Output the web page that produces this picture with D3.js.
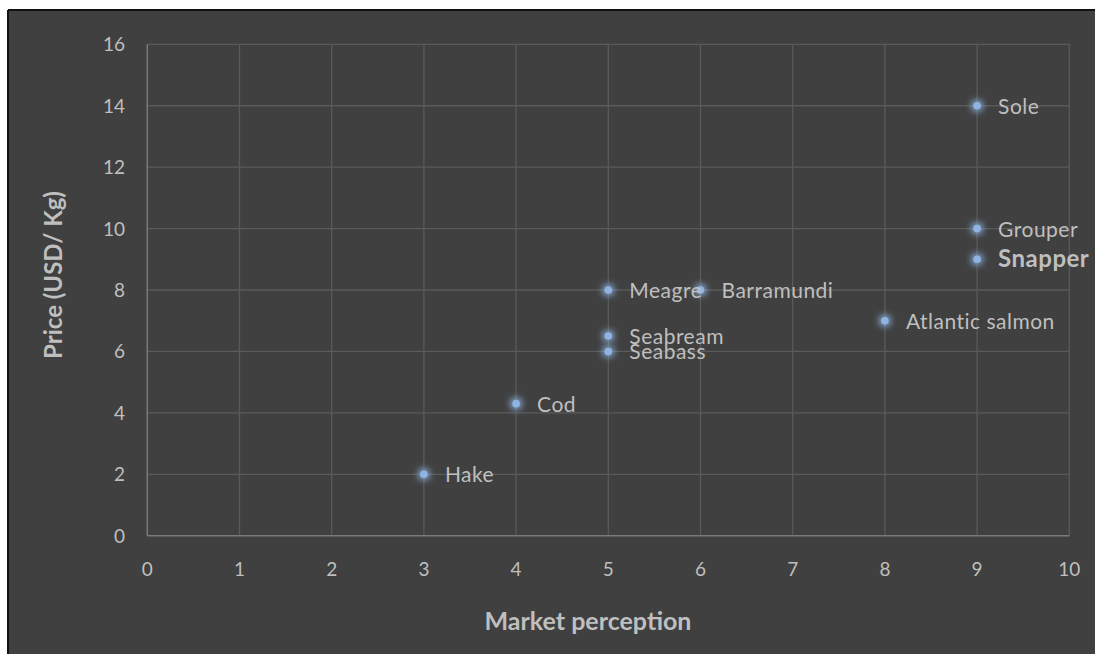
<!DOCTYPE html>
<html>
<head>
<meta charset="utf-8">
<script src="https://cdn.jsdelivr.net/npm/d3@7"></script>
<style>
  html, body { margin: 0; padding: 0; background: #ffffff; }
  svg { display: block; }
</style>
</head>
<body>
<svg id="chart" width="1095" height="654"></svg>
<script>
// Species positioned by market perception (x) and price in USD/kg (y)
const species = ["Hake", "Cod", "Seabass", "Seabream", "Meagre", "Barramundi", "Atlantic salmon", "Snapper", "Grouper", "Sole"];
const perception = [3, 4, 5, 5, 5, 6, 8, 9, 9, 9];
const price = [2, 4.3, 6, 6.5, 8, 8, 7, 9, 10, 14];
const highlighted = ["Snapper"];
const xTicks = [0, 1, 2, 3, 4, 5, 6, 7, 8, 9, 10];
const yTicks = [0, 2, 4, 6, 8, 10, 12, 14, 16];

const svg = d3.select("#chart");
const W = 1095, H = 654;
const font = "Lato, 'Open Sans', sans-serif";
const textCol = "#bfbfbf";

// chart panel
svg.append("rect").attr("x", 8).attr("y", 10).attr("width", W - 8).attr("height", H - 10)
  .attr("fill", "#404040");
svg.append("line").attr("x1", 8).attr("x2", 8).attr("y1", 10).attr("y2", H)
  .attr("stroke", "#111").attr("stroke-width", 2);
svg.append("line").attr("x1", 8).attr("x2", W).attr("y1", 10).attr("y2", 10)
  .attr("stroke", "#111").attr("stroke-width", 2);

const x = d3.scaleLinear().domain([0, 10]).range([147.3, 1069.3]);
const y = d3.scaleLinear().domain([0, 16]).range([535.7, 44.3]);

// soft blue halo around markers
const defs = svg.append("defs");
const f = defs.append("filter").attr("id", "glow").attr("x", "-300%").attr("y", "-300%")
  .attr("width", "700%").attr("height", "700%");
f.append("feMorphology").attr("in", "SourceGraphic").attr("operator", "dilate").attr("radius", 2).attr("result", "d");
f.append("feGaussianBlur").attr("in", "d").attr("stdDeviation", 3).attr("result", "b");
f.append("feColorMatrix").attr("in", "b").attr("type", "matrix")
  .attr("values", "0 0 0 0 0.27  0 0 0 0 0.45  0 0 0 0 0.75  0 0 0 0.85 0").attr("result", "c");
const m = f.append("feMerge");
m.append("feMergeNode").attr("in", "c");
m.append("feMergeNode").attr("in", "SourceGraphic");

// gridlines
const grid = svg.append("g");
grid.selectAll(".gx").data(xTicks.slice(1)).join("line")
  .attr("x1", d => x(d)).attr("x2", d => x(d))
  .attr("y1", y(16)).attr("y2", y(0))
  .attr("stroke", "#5a5a5a").attr("stroke-width", 1.3);
grid.selectAll(".gy").data(yTicks.slice(1)).join("line")
  .attr("x1", x(0)).attr("x2", x(10))
  .attr("y1", d => y(d)).attr("y2", d => y(d))
  .attr("stroke", "#5a5a5a").attr("stroke-width", 1.3);

// axis lines
svg.append("line").attr("x1", x(0)).attr("x2", x(10)).attr("y1", y(0)).attr("y2", y(0))
  .attr("stroke", "#7a7a7a").attr("stroke-width", 1.5);
svg.append("line").attr("x1", x(0)).attr("x2", x(0)).attr("y1", y(0)).attr("y2", y(16))
  .attr("stroke", "#7a7a7a").attr("stroke-width", 1.5);

// tick labels
svg.append("g").selectAll("text").data(xTicks).join("text")
  .attr("x", d => x(d)).attr("y", 576)
  .attr("text-anchor", "middle")
  .attr("font-family", font).attr("font-size", 19).attr("fill", textCol)
  .text(d => d);
svg.append("g").selectAll("text").data(yTicks).join("text")
  .attr("x", 125).attr("y", d => y(d) + 7)
  .attr("text-anchor", "end")
  .attr("font-family", font).attr("font-size", 19).attr("fill", textCol)
  .text(d => d);

// axis titles
svg.append("text").attr("x", 588).attr("y", 630)
  .attr("text-anchor", "middle")
  .attr("font-family", font).attr("font-size", 25).attr("font-weight", "bold").attr("fill", textCol)
  .text("Market perception");
svg.append("text")
  .attr("transform", "translate(62, 275) rotate(-90)")
  .attr("text-anchor", "middle")
  .attr("font-family", font).attr("font-size", 24).attr("font-weight", "bold").attr("fill", textCol)
  .text("Price (USD/ Kg)");

// markers
const pts = species.map((s, i) => ({ name: s, px: perception[i], py: price[i] }));
svg.append("g").selectAll("circle").data(pts).join("circle")
  .attr("cx", d => x(d.px)).attr("cy", d => y(d.py))
  .attr("r", 3.8)
  .attr("fill", "#8fb4e3")
  .attr("filter", "url(#glow)");

// data labels
svg.append("g").selectAll("text").data(pts).join("text")
  .attr("x", d => x(d.px) + 21)
  .attr("y", d => y(d.py) + 8)
  .attr("font-family", font)
  .attr("font-size", d => highlighted.includes(d.name) ? 24 : 21)
  .attr("letter-spacing", 0.5)
  .attr("font-weight", d => highlighted.includes(d.name) ? "bold" : "normal")
  .attr("fill", textCol)
  .text(d => d.name);
</script>
</body>
</html>
